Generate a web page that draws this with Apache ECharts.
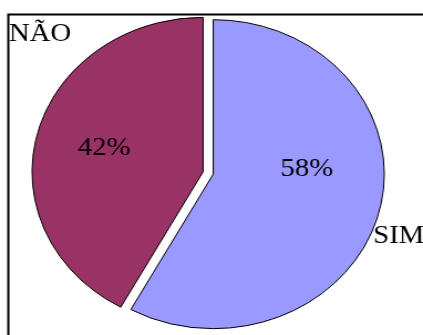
<!DOCTYPE html>
<html>
<head>
<meta charset="utf-8">
<script src="https://cdn.jsdelivr.net/npm/echarts@6/dist/echarts.min.js"></script>
<style>
  html, body { margin: 0; padding: 0; background: #fff; overflow: hidden; }
  #chart { width: 382px; height: 335px; transform: scaleX(1.1073); transform-origin: 0 0; }
</style>
</head>
<body>
<div id="chart"></div>
<script>
// ---- data ----
var categories = ['SIM', 'NÃO'];
var values = [58, 42];
var colors = ['#9999FF', '#993366'];

// ---- label placement (layout, unscaled px) ----
var pctLabelPos = [[277, 169], [94, 148]];
var nameLabelPos = [[337, 236], [8, 34]];

var FONT = 'Liberation Serif';

var pieData = categories.map(function (c, i) {
  return { name: c, value: values[i], selected: true, itemStyle: { color: colors[i] } };
});
var labelData = categories.map(function (c, i) {
  return { name: c, value: values[i] };
});

function labelSeries(formatter, posTable, align) {
  return {
    type: 'pie',
    center: [188, 173],
    radius: [0, 154.5],
    startAngle: 90,
    clockwise: true,
    silent: true,
    selectedMode: false,
    avoidLabelOverlap: false,
    itemStyle: { color: 'transparent', borderWidth: 0 },
    emphasis: { disabled: true },
    label: {
      show: true,
      position: 'outside',
      formatter: formatter,
      fontFamily: FONT,
      fontSize: 26,
      color: '#000'
    },
    labelLine: { show: false },
    labelLayout: function (p) {
      var pos = posTable[p.dataIndex];
      return { x: pos[0], y: pos[1], align: align, verticalAlign: 'middle' };
    },
    data: labelData
  };
}

var chart = echarts.init(document.getElementById('chart'), null, { renderer: 'canvas' });
chart.setOption({
  animation: false,
  backgroundColor: '#ffffff',
  graphic: [{
    type: 'rect',
    shape: { x: 7.5, y: 14.5, width: 400, height: 400 },
    style: { fill: 'none', stroke: '#000', lineWidth: 2 },
    z: 100
  }],
  series: [{
    type: 'pie',
    center: [188, 173],
    radius: [0, 154.5],
    startAngle: 90,
    clockwise: true,
    selectedMode: 'multiple',
    selectedOffset: 4.7,
    avoidLabelOverlap: false,
    itemStyle: { borderColor: '#000', borderWidth: 1 },
    select: { itemStyle: { borderColor: '#000', borderWidth: 1 } },
    emphasis: { disabled: true },
    label: { show: false },
    labelLine: { show: false },
    data: pieData
  },
  labelSeries('{d}%', pctLabelPos, 'center'),
  labelSeries('{b}', nameLabelPos, 'left')
  ]
});
</script>
</body>
</html>
